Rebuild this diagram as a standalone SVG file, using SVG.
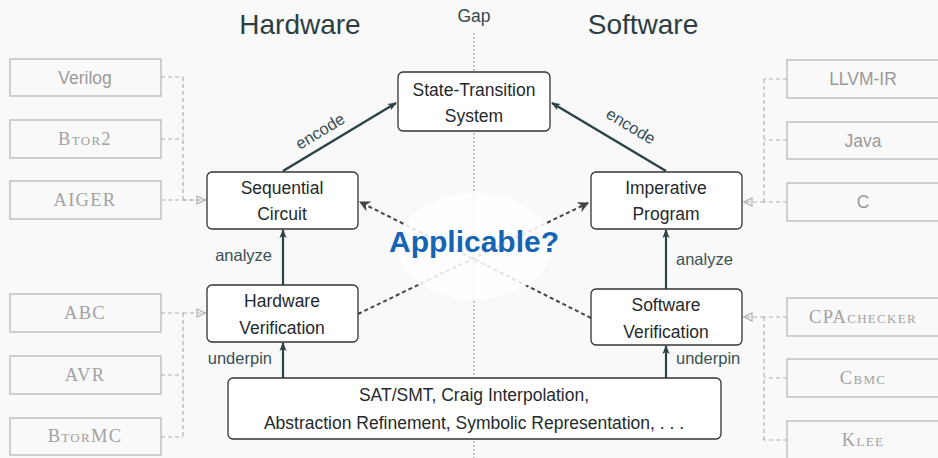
<svg xmlns="http://www.w3.org/2000/svg" width="938" height="458" viewBox="0 0 938 458">
<style>
.t{font-family:"Liberation Sans",Arial,sans-serif;fill:#1f2a2c;font-size:17.5px;text-anchor:middle}
.lbl{font-family:"Liberation Sans",Arial,sans-serif;fill:#3a5154;font-size:16.5px}
.title{font-family:"Liberation Sans",Arial,sans-serif;fill:#2b3f42;font-size:28px;text-anchor:middle}
.node{fill:#fff;stroke:#333;stroke-width:1.3}
.tool{fill:none;stroke:#b8b8b8;stroke-width:1.3}
.tt{font-family:"Liberation Sans",Arial,sans-serif;fill:#9a9a9a;font-size:17.5px;text-anchor:middle}
.ts{font-family:"Liberation Serif","Times New Roman",serif;fill:#a2a2a2;font-size:18.5px;letter-spacing:1.3px;text-anchor:middle;font-variant:small-caps}
.solid{stroke:#2b4346;stroke-width:2.2;fill:none}
.dash{stroke:#444;stroke-width:2;stroke-dasharray:4 3;fill:none}
.gd{stroke:#b0b0b0;stroke-width:1.2;stroke-dasharray:4 3;fill:none}
</style>
<defs>
<marker id="ah" viewBox="0 0 10 10" refX="9" refY="5" markerWidth="9" markerHeight="9" orient="auto" markerUnits="userSpaceOnUse">
<path d="M0,1 L10,5 L0,9 L2.5,5 Z" fill="#2b4346"/>
</marker>
<marker id="ahd" viewBox="0 0 10 10" refX="9" refY="5" markerWidth="11" markerHeight="11" orient="auto" markerUnits="userSpaceOnUse">
<path d="M0,0 L10,5 L0,10 L3,5 Z" fill="#444"/>
</marker>
<marker id="ao" viewBox="0 0 10 10" refX="10" refY="5" markerWidth="10" markerHeight="10" orient="auto" markerUnits="userSpaceOnUse">
<path d="M1,1 L9,5 L1,9 Z" fill="none" stroke="#b0b0b0" stroke-width="1.2"/>
</marker>
</defs>
<rect width="938" height="458" fill="#f9f9f9"/>

<g id="titles">
<text class="title" x="300" y="34">Hardware</text>
<text class="title" x="643" y="34">Software</text>
<text class="t" x="474" y="22" style="fill:#33494c">Gap</text>
</g>

<g id="connectors">
<line x1="474" y1="33" x2="474" y2="458" stroke="#a0a0a0" stroke-width="1.5" stroke-dasharray="1.5 2.5"/>
<line class="dash" x1="358" y1="314" x2="588" y2="203" marker-end="url(#ahd)"/>
<line class="dash" x1="591" y1="318" x2="360" y2="202" marker-end="url(#ahd)"/>
<line class="solid" x1="283" y1="171" x2="396" y2="103" style="stroke-width:2.5" marker-end="url(#ah)"/>
<line class="solid" x1="666" y1="171" x2="552" y2="103" style="stroke-width:2.5" marker-end="url(#ah)"/>
<line class="solid" x1="283" y1="285" x2="283" y2="230" marker-end="url(#ah)"/>
<line class="solid" x1="666" y1="289" x2="666" y2="230" marker-end="url(#ah)"/>
<line class="solid" x1="283" y1="378" x2="283" y2="343" marker-end="url(#ah)"/>
<line class="solid" x1="666" y1="378" x2="666" y2="346" marker-end="url(#ah)"/>
<path class="gd" d="M161,77 H183 M161,139 H183 M183,77 V200 M161,200 H206" />
<line class="gd" x1="183" y1="200" x2="206" y2="200" marker-end="url(#ao)"/>
<path class="gd" d="M161,313 H183 M161,375 H183 M161,437 H183 M183,313 V437"/>
<line class="gd" x1="183" y1="313" x2="206" y2="313" marker-end="url(#ao)"/>
<path class="gd" d="M787,79 H764 M787,140 H764 M787,202 H764 M764,79 V202"/>
<line class="gd" x1="764" y1="202" x2="743" y2="202" marker-end="url(#ao)"/>
<path class="gd" d="M787,317 H764 M787,378 H764 M787,440 H764 M764,317 V440"/>
<line class="gd" x1="764" y1="317" x2="743" y2="317" marker-end="url(#ao)"/>
<text class="lbl" transform="translate(323,136) rotate(-31)" text-anchor="middle">encode</text>
<text class="lbl" transform="translate(628,131) rotate(31)" text-anchor="middle">encode</text>
<text class="lbl" x="272" y="261" text-anchor="end">analyze</text>
<text class="lbl" x="676" y="265">analyze</text>
<text class="lbl" x="272" y="364" text-anchor="end">underpin</text>
<text class="lbl" x="676" y="364">underpin</text>
</g>

<g id="applicable">
<ellipse cx="475" cy="246" rx="77" ry="53" fill="#fff" fill-opacity="0.85"/>
<text x="474" y="252" font-family="Liberation Sans,Arial,sans-serif" font-weight="bold" font-size="30" fill="#1565b4" text-anchor="middle">Applicable?</text>
</g>

<g id="sts"><rect class="node" x="398" y="72" width="152" height="59" rx="5"/>
<text class="t" x="474" y="96">State-Transition</text><text class="t" x="474" y="122">System</text></g>
<g id="seq"><rect class="node" x="207" y="172" width="151" height="57" rx="5"/>
<text class="t" x="282" y="194">Sequential</text><text class="t" x="282" y="220">Circuit</text></g>
<g id="imp"><rect class="node" x="591" y="172" width="151" height="57" rx="5"/>
<text class="t" x="666" y="194">Imperative</text><text class="t" x="666" y="220">Program</text></g>
<g id="hwv"><rect class="node" x="207" y="285" width="151" height="57" rx="5"/>
<text class="t" x="282" y="307">Hardware</text><text class="t" x="282" y="334">Verification</text></g>
<g id="swv"><rect class="node" x="591" y="289" width="151" height="56" rx="5"/>
<text class="t" x="666" y="311">Software</text><text class="t" x="666" y="338">Verification</text></g>
<g id="sat"><rect class="node" x="228" y="378" width="493" height="61" rx="5"/>
<text class="t" x="474" y="401">SAT/SMT, Craig Interpolation,</text>
<text class="t" x="474" y="429">Abstraction Refinement, Symbolic Representation, . . .</text></g>

<g id="verilog"><rect class="tool" x="10" y="59" width="151" height="37"/><text class="tt" x="85" y="84">Verilog</text></g>
<g id="btor2"><rect class="tool" x="10" y="120" width="151" height="38"/><text class="ts" x="85" y="145">Btor2</text></g>
<g id="aiger"><rect class="tool" x="10" y="181" width="151" height="38"/><text class="ts" x="85" y="206">AIGER</text></g>
<g id="abc"><rect class="tool" x="10" y="294" width="151" height="38"/><text class="ts" x="85" y="319">ABC</text></g>
<g id="avr"><rect class="tool" x="10" y="356" width="151" height="38"/><text class="ts" x="85" y="381">AVR</text></g>
<g id="btormc"><rect class="tool" x="10" y="418" width="151" height="37"/><text class="ts" x="85" y="442">BtorMC</text></g>
<g id="llvm"><rect class="tool" x="787" y="60" width="160" height="38"/><text class="tt" x="863" y="85">LLVM-IR</text></g>
<g id="java"><rect class="tool" x="787" y="122" width="160" height="37"/><text class="tt" x="863" y="147">Java</text></g>
<g id="c"><rect class="tool" x="787" y="183" width="160" height="38"/><text class="tt" x="863" y="208">C</text></g>
<g id="cpa"><rect class="tool" x="787" y="298" width="160" height="38"/><text class="ts" x="863" y="323">CPAchecker</text></g>
<g id="cbmc"><rect class="tool" x="787" y="359" width="160" height="38"/><text class="ts" x="863" y="384">Cbmc</text></g>
<g id="klee"><rect class="tool" x="787" y="421" width="160" height="40"/><text class="ts" x="863" y="446">Klee</text></g>
</svg>
